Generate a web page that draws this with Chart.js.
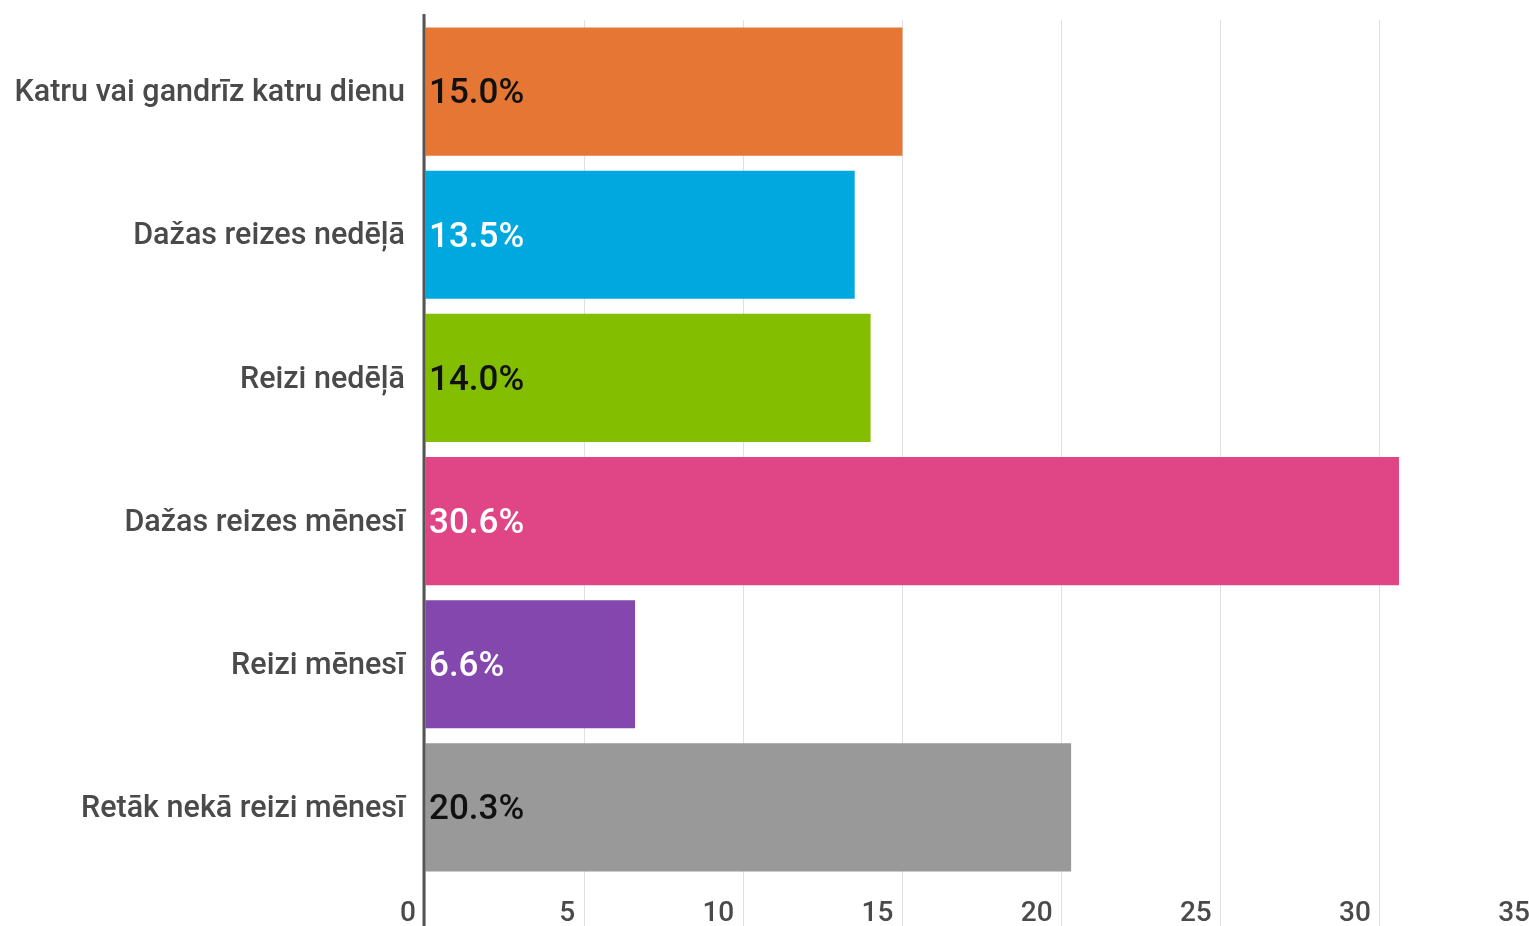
<!DOCTYPE html>
<html>
<head>
<meta charset="utf-8">
<script src="https://cdn.jsdelivr.net/npm/chart.js@4"></script>
<style>
    html, body { margin: 0; padding: 0; overflow: hidden; background: #fff; }
    #wrap { position: relative; width: 1560px; height: 926px; }
</style>
</head>
<body>
<div id="wrap"><canvas id="freqChart"></canvas></div>
<script>
// Chart values
const categories = [
    'Katru vai gandrīz katru dienu',
    'Dažas reizes nedēļā',
    'Reizi nedēļā',
    'Dažas reizes mēnesī',
    'Reizi mēnesī',
    'Retāk nekā reizi mēnesī'
];
const shares = [15.0, 13.5, 14.0, 30.6, 6.6, 20.3];
const xTicks = [0, 5, 10, 15, 20, 25, 30, 35];

const barColors = ['#e67634', '#00a8e0', '#84be00', '#e04585', '#8447ad', '#999999'];
const labelColors = ['#111111', '#ffffff', '#111111', '#ffffff', '#ffffff', '#111111'];

// Draw the value labels and the zero axis on top of the bars
const valueLabels = {
    id: 'valueLabels',
    afterDatasetsDraw(chart) {
        const ctx = chart.ctx;
        const xScale = chart.scales.x;
        const x0 = xScale.getPixelForValue(0);
        const meta = chart.getDatasetMeta(0);

        ctx.save();
        ctx.font = '500 35px Roboto';
        ctx.textAlign = 'left';
        ctx.textBaseline = 'middle';
        meta.data.forEach((bar, i) => {
            ctx.fillStyle = labelColors[i];
            ctx.fillText(shares[i].toFixed(1) + '%', x0 + 4, bar.y + 3);
        });

        ctx.strokeStyle = '#555555';
        ctx.lineWidth = 3;
        ctx.beginPath();
        ctx.moveTo(x0 - 1, chart.chartArea.top - 6);
        ctx.lineTo(x0 - 1, chart.height);
        ctx.stroke();
        ctx.restore();
    }
};

new Chart(document.getElementById('freqChart'), {
    type: 'bar',
    data: {
        labels: categories,
        datasets: [{
            data: shares,
            backgroundColor: barColors,
            borderWidth: 0,
            barPercentage: 0.895,
            categoryPercentage: 1.0
        }]
    },
    options: {
        indexAxis: 'y',
        responsive: true,
        maintainAspectRatio: false,
        animation: false,
        layout: { padding: { top: 20, right: 21, left: 0, bottom: 0 } },
        plugins: {
            legend: { display: false },
            tooltip: { enabled: false }
        },
        scales: {
            x: {
                min: 0,
                max: 35,
                afterBuildTicks: axis => { axis.ticks = xTicks.map(v => ({ value: v })); },
                afterFit: axis => { axis.height = 47; },
                grid: {
                    color: '#e0e0e0',
                    lineWidth: 1,
                    drawTicks: true,
                    tickLength: 47
                },
                border: { display: false },
                ticks: {
                    align: 'end',
                    labelOffset: -9,
                    padding: -29,
                    autoSkip: false,
                    maxRotation: 0,
                    color: '#4a4a4a',
                    font: { family: 'Roboto', size: 28, weight: '500' }
                }
            },
            y: {
                afterFit: axis => {
                    axis.width = 425;
                    axis.paddingTop = 0;
                    axis.paddingBottom = 0;
                },
                grid: { display: false },
                border: { display: false },
                ticks: {
                    padding: 12,
                    labelOffset: 2,
                    color: '#4a4a4a',
                    font: { family: 'Roboto', size: 30.5, weight: '500' }
                }
            }
        }
    },
    plugins: [valueLabels]
});
</script>
</body>
</html>
